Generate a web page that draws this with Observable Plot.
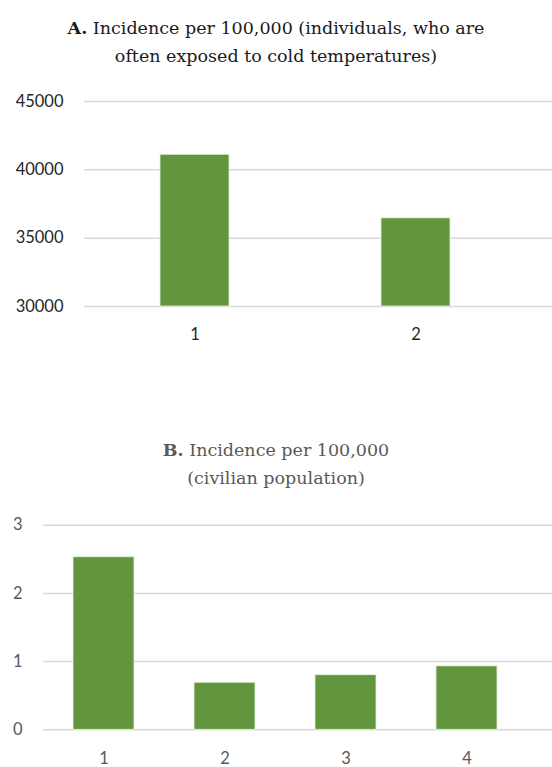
<!DOCTYPE html>
<html>
<head>
<meta charset="utf-8">
<script src="https://cdn.jsdelivr.net/npm/d3@7"></script>
<script src="https://cdn.jsdelivr.net/npm/@observablehq/plot@0.6"></script>
<style>
  html, body { margin: 0; padding: 0; background: #fff; }
  #wrap { position: relative; width: 552px; height: 767px; overflow: hidden; }
  .title { position: absolute; left: 0; width: 552px; text-align: center;
           font-family: "DejaVu Serif", serif; font-size: 17.5px; line-height: 28px; }
  #titleA { top: 13.5px; color: #1a1a1a; }
  #titleB { top: 435.5px; color: #595959; }
  #chartA { position: absolute; left: 0; top: 80px; }
  #chartB { position: absolute; left: 0; top: 500px; }
</style>
</head>
<body>
<div id="wrap">
  <div class="title" id="titleA"><b>A.</b> Incidence per 100,000 (individuals, who are<br>often exposed to cold temperatures)</div>
  <div id="chartA"></div>
  <div class="title" id="titleB"><b>B.</b> Incidence per 100,000<br>(civilian population)</div>
  <div id="chartB"></div>
</div>
<script>
// Panel A
const categoriesA = ["1", "2"];
const valuesA = [41100, 36450];
const ticksA = [30000, 35000, 40000, 45000];

// Panel B
const categoriesB = ["1", "2", "3", "4"];
const valuesB = [2.53, 0.69, 0.80, 0.93];
const ticksB = [0, 1, 2, 3];

const barColor = "#61963d";
const gridColor = "#d9d9d9";

const dataA = categoriesA.map((c, i) => ({cat: c, value: valuesA[i]}));
const dataB = categoriesB.map((c, i) => ({cat: c, value: valuesB[i]}));

const chartA = Plot.plot({
  width: 552,
  height: 280,
  marginTop: 21,
  marginBottom: 54,
  marginLeft: 84,
  marginRight: 26,
  style: {fontFamily: "Lato, sans-serif", fontSize: "16.5px", color: "#262626", background: "transparent"},
  x: {domain: categoriesA, paddingInner: 0.69, paddingOuter: 0.345, label: null, tickSize: 0, tickPadding: 22},
  y: {domain: [30000, 45000], ticks: ticksA, label: null, tickSize: 0, tickPadding: 21, tickFormat: d => String(d)},
  marks: [
    Plot.ruleY(ticksA, {stroke: gridColor, strokeWidth: 1.5, insetRight: -26}),
    Plot.barY(dataA, {x: "cat", y1: 30000, y2: "value", fill: barColor, stroke: "#e6efe0", strokeWidth: 0.8})
  ]
});
document.getElementById("chartA").appendChild(chartA);

const chartB = Plot.plot({
  width: 552,
  height: 267,
  marginTop: 24.7,
  marginBottom: 37.7,
  marginLeft: 43,
  marginRight: 25,
  style: {fontFamily: "Lato, sans-serif", fontSize: "16.5px", color: "#595959", background: "transparent"},
  x: {domain: categoriesB, paddingInner: 0.496, paddingOuter: 0.248, label: null, tickSize: 0, tickPadding: 22},
  y: {domain: [0, 3], ticks: ticksB, label: null, tickSize: 0, tickPadding: 21, tickFormat: d => String(d)},
  marks: [
    Plot.ruleY(ticksB, {stroke: gridColor, strokeWidth: 1.5, insetRight: -25}),
    Plot.barY(dataB, {x: "cat", y: "value", fill: barColor, stroke: "#e6efe0", strokeWidth: 0.8})
  ]
});
document.getElementById("chartB").appendChild(chartB);
</script>
</body>
</html>
